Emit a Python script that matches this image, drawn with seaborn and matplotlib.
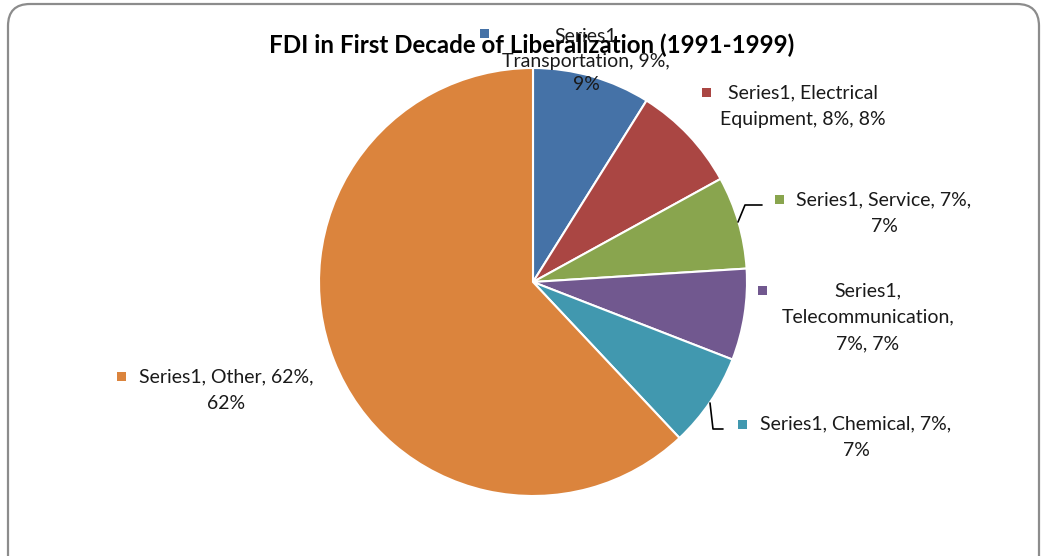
import matplotlib
matplotlib.use("Agg")
import matplotlib.pyplot as plt
import seaborn as sns
from matplotlib.patches import FancyBboxPatch, Rectangle

# Sector shares of FDI (percent)
sectors = ["Transportation", "Electrical Equipment", "Service",
           "Telecommunication", "Chemical", "Other"]
shares = [8.9, 8.1, 7.0, 6.9, 7.1, 62.0]
colors = ["#4572A7", "#AA4643", "#89A54E", "#71588F", "#4198AF", "#DB843D"]

# data label text, wrapped like the original
labels = [
    "Series1\nTransportation, 9%,\n9%",
    "Series1, Electrical\nEquipment, 8%, 8%",
    "Series1, Service, 7%,\n7%",
    "Series1,\nTelecommunication,\n7%, 7%",
    "Series1, Chemical, 7%,\n7%",
    "Series1, Other, 62%,\n62%",
]

# label layout in pixels: text block centre and legend key position
label_xy = [(586, 61), (803, 106), (884, 213), (868, 317), (856, 437), (226, 390)]
key_xy = [(484, 33), (706, 92), (779, 199), (762, 290), (742, 424), (121, 376)]
spacing = [1.5, 1.68, 1.68, 1.68, 1.68, 1.68]

W, H = 1046, 556
CX, CY, R = 533, 282, 214

sns.set_theme(style="white")
plt.rcParams['font.family'] = ['Lato', 'DejaVu Sans']

fig = plt.figure(figsize=(W / 100, H / 100), dpi=100)
fig.patch.set_facecolor("white")

# pie
ax = fig.add_axes([(CX - R) / W, 1 - (CY + R) / H, 2 * R / W, 2 * R / H])
ax.set_zorder(1)
ax.pie(shares, colors=colors, startangle=90, counterclock=False,
       wedgeprops=dict(edgecolor="white", linewidth=1.5))
ax.set_xlim(-1, 1)
ax.set_ylim(-1, 1)
ax.set_aspect("equal")
ax.axis("off")

# overlay in pixel coordinates for frame, labels, title
ov = fig.add_axes([0, 0, 1, 1])
ov.set_zorder(2)
ov.patch.set_alpha(0)
ov.set_xlim(0, W)
ov.set_ylim(H, 0)
ov.axis("off")

frame = FancyBboxPatch((8, 4), 1031, 600,
                       boxstyle="round,pad=0,rounding_size=22",
                       facecolor="none", edgecolor="#8c8c8c", linewidth=1.6)
ov.add_patch(frame)

ov.text(532, 45, "FDI in First Decade of Liberalization (1991-1999)",
        ha="center", va="center", fontsize=17.4, fontweight="bold", color="black")

for lab, (tx, ty), (kx, ky), c, ls in zip(labels, label_xy, key_xy, colors, spacing):
    ov.text(tx, ty, lab, ha="center", va="center", multialignment="center",
            fontsize=14, color="#1a1a1a", linespacing=ls)
    ov.add_patch(Rectangle((kx - 4.5, ky - 4.5), 9, 9, facecolor=c, edgecolor="none"))

# leader lines for the two crowded labels
ov.plot([738, 745, 762], [222, 205, 205], color="black", lw=1.2)
ov.plot([710, 713, 723], [403, 429, 429], color="black", lw=1.2)

fig.savefig("out.png", dpi=100)
